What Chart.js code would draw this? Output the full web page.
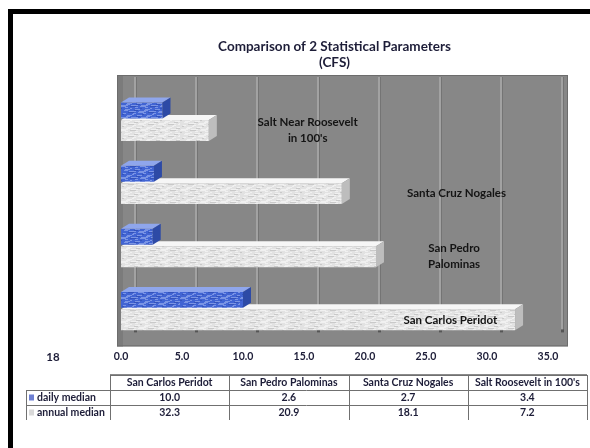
<!DOCTYPE html>
<html>
<head>
<meta charset="utf-8">
<script src="https://cdn.jsdelivr.net/npm/chart.js@4/dist/chart.umd.min.js"></script>
<style>
  html, body { margin: 0; padding: 0; background: #ffffff; }
  #wrap { width: 590px; height: 448px; position: relative; }
</style>
</head>
<body>
<div id="wrap"><canvas id="c" width="590" height="448"></canvas></div>
<script>
// ---- data ----
const categories = ['San Carlos Peridot', 'San Pedro Palominas', 'Santa Cruz Nogales', "Salt Roosevelt in 100's"];
const barLabels = [['San Carlos Peridot'], ['San Pedro', 'Palominas'], ['Santa Cruz Nogales'], ['Salt Near Roosevelt', "in 100's"]];
const seriesNames = ['daily median', 'annual median'];
const dailyMedian = [10.0, 2.6, 2.7, 3.4];
const annualMedian = [32.3, 20.9, 18.1, 7.2];
const xMin = 0;
const xMax = 35;
const xStep = 5;
const cornerNote = '18';

// ---- styling ----
const FONT = 'Lato, "Liberation Sans", sans-serif';
const INK = '#1d1d38';
const depth = { dx: 8, dy: 5 };       // extrusion of the bars
const wallShift = 14;                  // back wall grid offset
const panelPad = { left: 4, top: 14, right: 20, bottom: 5 };
const labelAtValue = [27.0, 27.3, 27.5, 15.3]; // where the in-plot names sit along the value axis

const canvas = document.getElementById('c');
const ctx0 = canvas.getContext('2d');

function makeTexture(base, light, dark) {
  const c = document.createElement('canvas');
  c.width = 60; c.height = 12;
  const g = c.getContext('2d');
  g.fillStyle = base; g.fillRect(0, 0, 60, 12);
  for (let row = 0; row < 12; row += 2) {
    for (let k = 0; k < 60; k += 5) {
      const len = 2 + ((row * 7 + k * 3) % 6);
      g.globalAlpha = 0.55;
      g.fillStyle = ((row * 3 + k) % 4 === 0) ? dark : light;
      g.fillRect((k + row * 2) % 60, row + ((k / 5) % 2), len, 1);
    }
  }
  g.globalAlpha = 1;
  return ctx0.createPattern(c, 'repeat');
}

const blueTex = makeTexture('#4164d3', '#a9bcf2', '#2a46a8');
const whiteTex = makeTexture('#e2e2e2', '#fbfbfb', '#b4b4b4');

const faceColors = [
  { top: '#8fa6ec', side: '#2d4aa6' },
  { top: '#f6f6f6', side: '#bdbdbd' }
];

const scenePlugin = {
  id: 'scene',
  beforeDraw(chart) {
    const { ctx, chartArea: a } = chart;
    const xs = chart.scales.x;
    ctx.save();
    ctx.fillStyle = '#ffffff';
    ctx.fillRect(0, 0, chart.width, chart.height);
    // outer black frame
    ctx.fillStyle = '#000000';
    ctx.fillRect(8, 9, chart.width, 5);
    ctx.fillRect(8, 9, 5, chart.height);
    // grey plot panel
    const px = a.left - panelPad.left, py = a.top - panelPad.top;
    const pw = a.right + panelPad.right - px, ph = a.bottom + panelPad.bottom - py;
    ctx.fillStyle = '#878787';
    ctx.fillRect(px, py, pw, ph);
    ctx.fillStyle = '#7b7b7b';
    ctx.fillRect(px, py, 6, ph);
    ctx.strokeStyle = '#6c6c6c';
    ctx.lineWidth = 1;
    ctx.strokeRect(px + 0.5, py + 0.5, pw - 1, ph - 1);
    // back wall grid lines
    const floorY = a.bottom - 11;
    xs.ticks.forEach(t => {
      const gx = Math.round(xs.getPixelForValue(t.value) + wallShift);
      ctx.fillStyle = '#a2a2a2';
      ctx.fillRect(gx - 1, py + 2, 2, floorY - py - 2);
      ctx.fillStyle = '#747474';
      ctx.fillRect(gx + 1, py + 2, 1, floorY - py - 2);
      ctx.fillStyle = '#555555';
      ctx.fillRect(gx - 1, floorY - 1, 3, 3);
    });
    ctx.restore();
  },
  afterDatasetDraw(chart, args) {
    const { ctx } = chart;
    const fc = faceColors[args.index];
    ctx.save();
    args.meta.data.forEach(el => {
      const p = el.getProps(['x', 'y', 'base', 'height'], true);
      const top = p.y - p.height / 2, bot = p.y + p.height / 2;
      const x0 = p.base, x1 = p.x;
      ctx.fillStyle = fc.top;
      ctx.beginPath();
      ctx.moveTo(x0, top); ctx.lineTo(x1, top);
      ctx.lineTo(x1 + depth.dx, top - depth.dy); ctx.lineTo(x0 + depth.dx, top - depth.dy);
      ctx.closePath(); ctx.fill();
      ctx.fillStyle = fc.side;
      ctx.beginPath();
      ctx.moveTo(x1, top); ctx.lineTo(x1 + depth.dx, top - depth.dy);
      ctx.lineTo(x1 + depth.dx, bot - depth.dy); ctx.lineTo(x1, bot);
      ctx.closePath(); ctx.fill();
    });
    ctx.restore();
  },
  afterDatasetsDraw(chart) {
    const { ctx } = chart;
    const xs = chart.scales.x;
    const annualMeta = chart.getDatasetMeta(1);
    ctx.save();
    ctx.fillStyle = '#141414';
    ctx.font = 'bold 11.5px ' + FONT;
    ctx.textAlign = 'center';
    ctx.textBaseline = 'middle';
    barLabels.forEach((lines, i) => {
      const el = annualMeta.data[i];
      const cx = xs.getPixelForValue(labelAtValue[i]);
      const lh = 16;
      const y0 = el.y - (lines.length - 1) * lh / 2;
      lines.forEach((s, j) => ctx.fillText(s, cx, y0 + j * lh));
    });
    ctx.restore();
  },
  afterDraw(chart) {
    const { ctx } = chart;
    ctx.save();
    // note left of the axis
    ctx.fillStyle = INK;
    ctx.font = 'bold 11.5px ' + FONT;
    ctx.textAlign = 'center';
    ctx.textBaseline = 'middle';
    ctx.fillText(cornerNote, 53, 357);

    // data table
    const left = 26, colStart = 110, right = 587, top = 375, rh = 15;
    const colW = (right - colStart) / categories.length;
    const rows = [dailyMedian, annualMedian];
    ctx.strokeStyle = '#707070';
    ctx.lineWidth = 1;
    ctx.beginPath();
    ctx.moveTo(colStart, top + 0.5); ctx.lineTo(right, top + 0.5);
    for (let r = 1; r <= rows.length; r++) {
      const y = top + r * rh + 0.5;
      ctx.moveTo(left, y); ctx.lineTo(right, y);
    }
    ctx.moveTo(left + 0.5, top + rh); ctx.lineTo(left + 0.5, top + rh * (rows.length + 1));
    for (let c = 0; c <= categories.length; c++) {
      const x = Math.round(colStart + c * colW) + 0.5;
      ctx.moveTo(x, top); ctx.lineTo(x, top + rh * (rows.length + 1));
    }
    ctx.stroke();
    ctx.strokeStyle = '#8a8a8a';
    ctx.beginPath();
    ctx.moveTo(colStart, top - 0.5); ctx.lineTo(right, top - 0.5);
    ctx.stroke();

    ctx.fillStyle = INK;
    ctx.font = 'bold 10.5px ' + FONT;
    ctx.textAlign = 'center';
    ctx.textBaseline = 'middle';
    categories.forEach((name, c) => {
      const cx = colStart + c * colW + colW / 2;
      ctx.fillText(name, cx, top + rh / 2 + 0.5);
      rows.forEach((vals, r) => {
        ctx.fillText(vals[c].toFixed(1), cx, top + rh * (r + 1) + rh / 2 + 0.5);
      });
    });
    // legend keys and series names
    const keyFill = ['#6d7fd3', '#d9d9d9'];
    ctx.font = 'bold 10.5px ' + FONT;
    seriesNames.forEach((s, r) => {
      const cy = top + rh * (r + 1) + rh / 2;
      ctx.fillStyle = keyFill[r];
      ctx.fillRect(29, cy - 3, 5, 6);
      ctx.fillStyle = INK;
      ctx.textAlign = 'left';
      ctx.fillText(s, 37, cy + 0.5);
    });
    ctx.restore();
  }
};

new Chart(canvas, {
  type: 'bar',
  data: {
    labels: categories,
    datasets: [
      {
        label: seriesNames[0],
        data: dailyMedian,
        backgroundColor: blueTex,
        borderWidth: 0,
        categoryPercentage: 0.632,
        barPercentage: 0.8
      },
      {
        label: seriesNames[1],
        data: annualMedian,
        backgroundColor: whiteTex,
        borderWidth: 0,
        categoryPercentage: 0.632,
        barPercentage: 1.05
      }
    ]
  },
  options: {
    indexAxis: 'y',
    responsive: false,
    animation: false,
    devicePixelRatio: 1,
    layout: { padding: { left: 121, right: 42, top: 0, bottom: 76 } },
    scales: {
      x: {
        min: xMin, max: xMax,
        grid: { display: false, drawTicks: false },
        border: { display: false },
        ticks: {
          stepSize: xStep,
          padding: 9,
          color: INK,
          font: { family: FONT, size: 10.5, weight: 'bold' },
          callback: v => Number(v).toFixed(1)
        }
      },
      y: {
        display: false,
        reverse: true,
        grid: { display: false }
      }
    },
    plugins: {
      legend: { display: false },
      tooltip: { enabled: false },
      title: {
        display: true,
        text: ['Comparison of 2 Statistical Parameters', '(CFS)'],
        color: INK,
        font: { family: FONT, size: 13.5, weight: 'bold', lineHeight: 16 / 13.5 },
        padding: { top: 39, bottom: 18 }
      }
    }
  },
  plugins: [scenePlugin]
});
</script>
</body>
</html>
